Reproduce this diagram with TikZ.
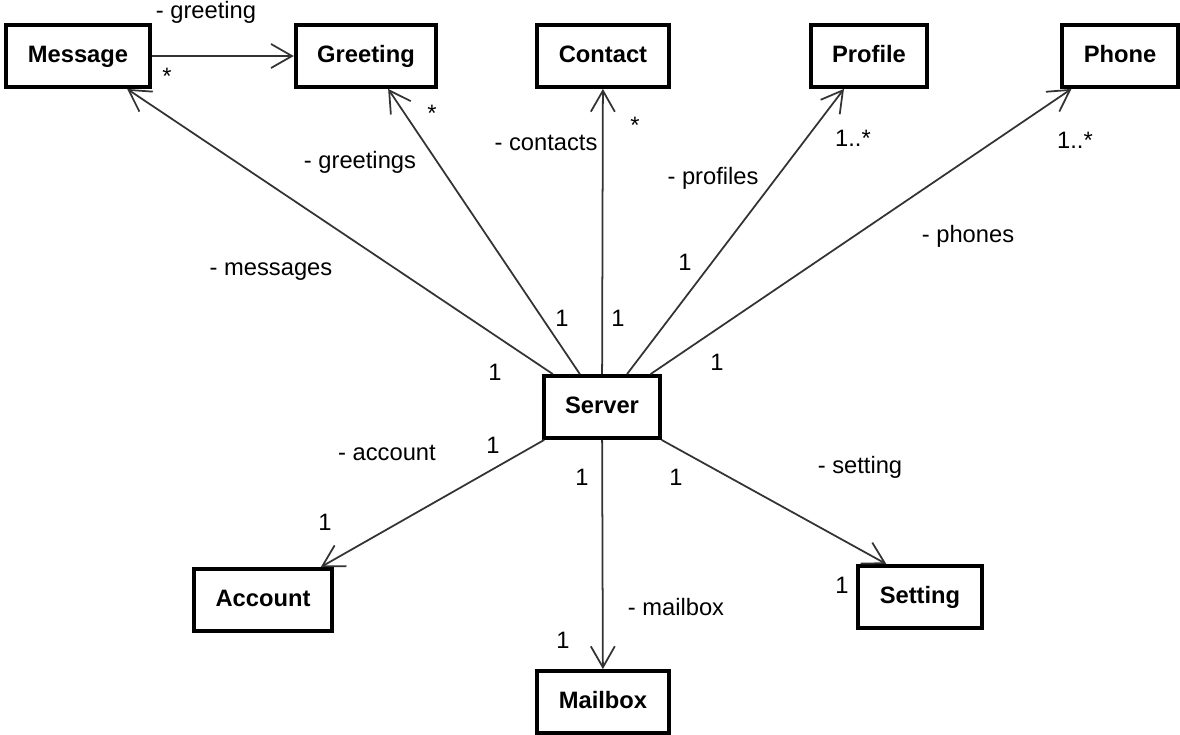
\documentclass[tikz,border=0pt]{standalone}
\usepackage{fontspec}
\setmainfont{Liberation Sans}
\usetikzlibrary{arrows.meta}

\begin{document}
\begin{tikzpicture}[x=0.02cm,y=-0.02cm]
\tikzset{class/.style={draw,line width=2.2pt,minimum height=1.24cm,inner xsep=0.43cm,text height=0.72em,text depth=0pt,font=\bfseries\fontsize{13.5}{16}\selectfont},
    role/.style={font=\fontsize{13.5}{16}\selectfont,inner sep=1pt},
    assoc/.style={draw=black!80,line width=1pt,-{Straight Barb[length=0.42cm,width=0.48cm]}}}
\useasboundingbox (0,0) rectangle (1180,734);
\node[class] (message) at (78,56) {Message};
\node[class] (greeting) at (366,56) {Greeting};
\node[class] (contact) at (603,56) {Contact};
\node[class] (profile) at (869,56) {Profile};
\node[class] (phone) at (1120,56) {Phone};
\node[class] (server) at (602,407) {Server};
\node[class] (account) at (263,600) {Account};
\node[class] (setting) at (920,597) {Setting};
\node[class] (mailbox) at (603,702) {Mailbox};
\draw[assoc] (message) -- (greeting);
\draw[assoc] (server) -- (message);
\draw[assoc] (server) -- (greeting);
\draw[assoc] (server) -- (contact);
\draw[assoc] (server) -- (profile);
\draw[assoc] (server) -- (phone);
\draw[assoc] (server) -- (account);
\draw[assoc] (server) -- (mailbox);
\draw[assoc] (server) -- ([xshift=0.6cm]setting.north west);
\node[role] (rgreeting) at (206,12) {- greeting};
\node[role] (mmessage) at (167,76) {*};
\node[role] (mgreeting) at (432,113) {*};
\node[role] (rgreetings) at (360,162) {- greetings};
\node[role] (rcontacts) at (546,143) {- contacts};
\node[role] (mcontact) at (635,125) {*};
\node[role] (rprofiles) at (713,178) {- profiles};
\node[role] (mprofile) at (853,138) {1..*};
\node[role] (mphone) at (1075,140) {1..*};
\node[role] (rphones) at (968,236) {- phones};
\node[role] (rmessages) at (271,272) {- messages};
\node[role] (sprofiles) at (685,262) {1};
\node[role] (sgreetings) at (562,318) {1};
\node[role] (scontacts) at (618,318) {1};
\node[role] (smessages) at (495,372) {1};
\node[role] (sphones) at (717,362) {1};
\node[role] (raccount) at (387,453) {- account};
\node[role] (saccount) at (493,445) {1};
\node[role] (smailbox) at (582,477) {1};
\node[role] (ssetting) at (676,477) {1};
\node[role] (rsetting) at (860,467) {- setting};
\node[role] (maccount) at (325,522) {1};
\node[role] (msetting) at (842,585) {1};
\node[role] (rmailbox) at (676,607) {- mailbox};
\node[role] (mmailbox) at (563,640) {1};
\end{tikzpicture}
\end{document}
